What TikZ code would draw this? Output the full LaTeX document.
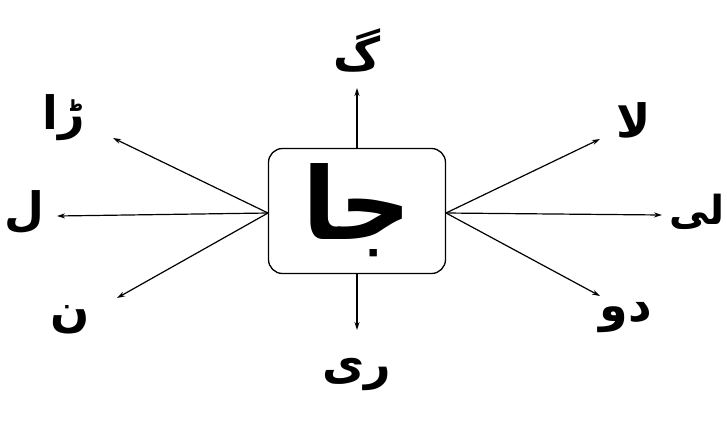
\documentclass[tikz,border=0pt]{standalone}
\usepackage{fontspec}
\usetikzlibrary{arrows.meta}
\TeXXeTstate=1
\newfontfamily\arabicfont[Script=Arabic]{DejaVu Sans}
\begin{document}
\begin{tikzpicture}[x=1pt,y=-1pt,
  arr/.style={line width=1.2pt,-{Stealth[length=8pt,width=5pt]}},
  lbl/.style={font=\arabicfont\bfseries\fontsize{46}{52}\selectfont,inner sep=0pt},
  centrebox/.style={draw,line width=1.3pt,rounded corners=14pt,minimum width=177pt,minimum height=125pt,inner sep=0pt}]
\useasboundingbox[fill=white] (0,0) rectangle (727,424);
\node[centrebox] (box) at (357,211) {};
\node[font=\arabicfont\bfseries\fontsize{100}{110}\selectfont,inner sep=0pt] (word) at (357,210) {\beginR جا\endR};
\coordinate (L) at (268,213);
\coordinate (R) at (446,213);
\coordinate (tul) at (113,138);
\coordinate (tl) at (57,216);
\coordinate (tll) at (117,298);
\coordinate (tur) at (600,139);
\coordinate (tr) at (662,215);
\coordinate (tlr) at (600,296);
\coordinate (tu) at (357,88);
\coordinate (td) at (357,330);
\draw[arr] (L) -- (tul);
\draw[arr] (L) -- (tl);
\draw[arr] (L) -- (tll);
\draw[arr] (R) -- (tur);
\draw[arr] (R) -- (tr);
\draw[arr] (R) -- (tlr);
\draw[arr] (box.north) -- (tu);
\draw[arr] (box.south) -- (td);
\node[lbl] (g) at (357,50) {\beginR گ\endR};
\node[lbl] (ri) at (357,374) {\beginR ری\endR};
\node[lbl] (ra) at (64,118) {\beginR ڑا\endR};
\node[lbl] (l) at (24,212) {\beginR ل\endR};
\node[lbl] (n) at (70,320) {\beginR ن\endR};
\node[lbl] (la) at (634,120) {\beginR لا\endR};
\node[lbl,anchor=east,font=\arabicfont\bfseries\fontsize{40}{46}\selectfont] (li) at (725,212) {\beginR لی\endR};
\node[lbl] (do) at (626,318) {\beginR دو\endR};
\end{tikzpicture}
\end{document}
